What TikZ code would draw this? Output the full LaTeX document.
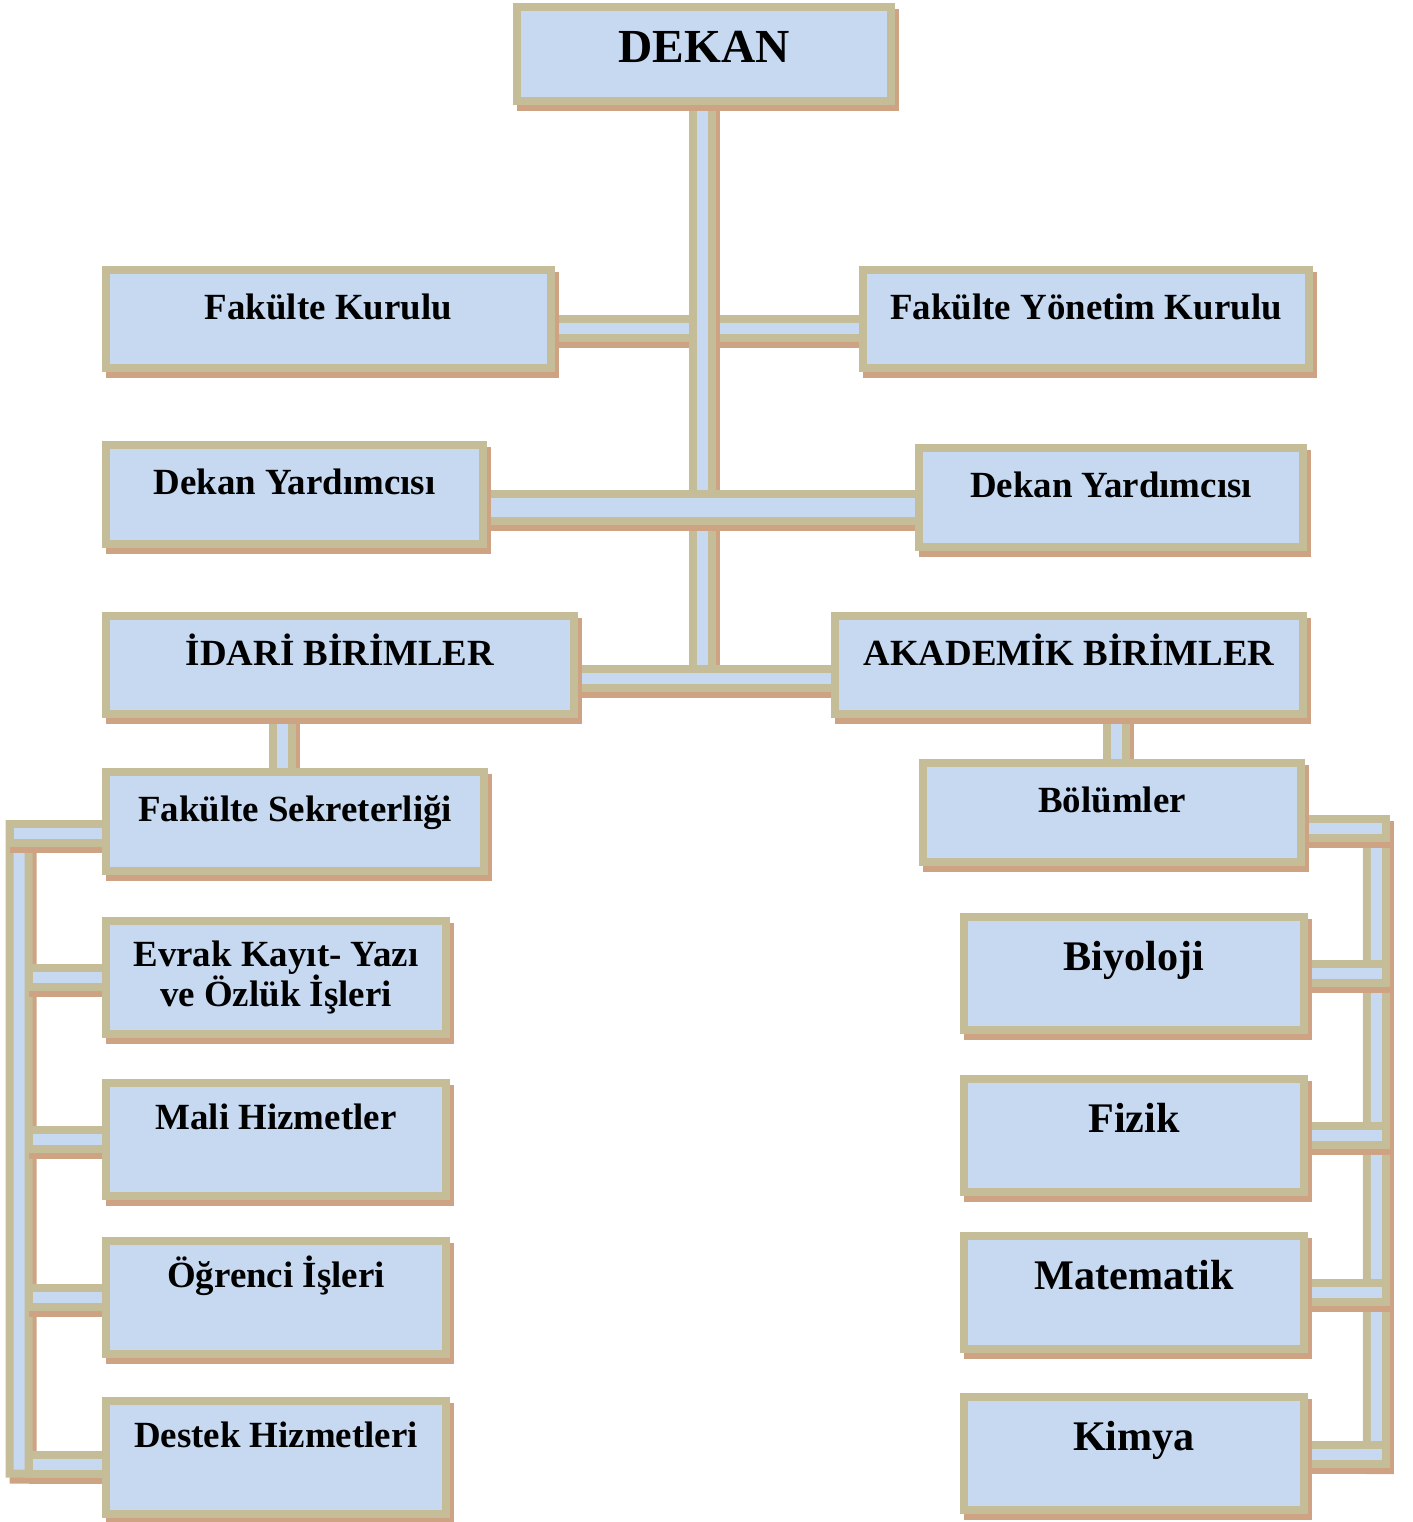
\documentclass[tikz,border=0pt]{standalone}
\usepackage{fontspec}
\setmainfont{Liberation Serif}
\usepackage{xcolor}
\usetikzlibrary{calc,backgrounds}

\definecolor{boxblue}{RGB}{198,217,241}
\definecolor{boxtan}{RGB}{196,189,151}
\definecolor{shadowbrown}{RGB}{205,163,132}

\begin{document}
\begin{tikzpicture}[x=0.02cm, y=-0.02cm,
  unit/.style={rectangle, draw=boxtan, fill=boxblue, line width=0.16cm, inner sep=0pt,
    font=\fontsize{21}{23}\selectfont\bfseries,
    preaction={draw=shadowbrown, fill=shadowbrown, transform canvas={shift={(0.08cm,-0.12cm)}}}},
  level/.style={unit, text height=10pt, text depth=10pt},
  head/.style={unit, font=\fontsize{27}{30}\selectfont\bfseries, text height=18pt, text depth=8pt},
  office/.style={unit, minimum width=6.8cm, minimum height=2.26cm, text height=10pt, text depth=21pt},
  dept/.style={unit, font=\fontsize{24}{27}\selectfont\bfseries, minimum width=6.8cm, minimum height=2.26cm,
    text height=10pt, text depth=14pt},
  pipe/.style={draw=boxtan, double=boxblue, line width=0.16cm, double distance=0.22cm, line cap=rect,
    preaction={draw=shadowbrown, line width=0.54cm, line cap=rect, transform canvas={shift={(0.08cm,-0.12cm)}}}},
  widepipe/.style={draw=boxtan, double=boxblue, line width=0.16cm, double distance=0.38cm, line cap=rect,
    preaction={draw=shadowbrown, line width=0.7cm, line cap=rect, transform canvas={shift={(0.08cm,-0.12cm)}}}}]
\useasboundingbox (0,0) rectangle (1413,1522);

\node[head, minimum width=7.48cm, minimum height=1.88cm] (dekan) at (704,54) {DEKAN};
\node[level, minimum width=8.9cm, minimum height=1.96cm] (fk) at (328.5,319) {Fakülte Kurulu};
\node[level, minimum width=8.92cm, minimum height=1.96cm] (fyk) at (1086,319) {Fakülte Yönetim Kurulu};
\node[level, minimum width=7.54cm, minimum height=1.98cm] (dyl) at (294.5,494.5) {Dekan Yardımcısı};
\node[level, minimum width=7.68cm, minimum height=1.98cm] (dyr) at (1111,497.5) {Dekan Yardımcısı};
\node[level, minimum width=9.36cm, minimum height=1.96cm] (idari) at (340,665) {İDARİ BİRİMLER};
\node[level, minimum width=9.36cm, minimum height=1.96cm] (akademik) at (1069,665) {AKADEMİK BİRİMLER};
\node[level, minimum width=7.56cm, minimum height=1.98cm] (sekreterlik) at (295,821.5) {Fakülte Sekreterliği};
\node[level, minimum width=7.56cm, minimum height=1.98cm] (bolumler) at (1112,812.5) {Bölümler};

\node[unit, align=center, minimum width=6.8cm, minimum height=2.26cm] (evrak) at (276,977.5) {Evrak Kayıt- Yazı\\ve Özlük İşleri};
\node[office] (mali) at (276,1139.5) {Mali Hizmetler};
\node[office] (ogrenci) at (276,1297.5) {Öğrenci İşleri};
\node[office] (destek) at (276,1457.5) {Destek Hizmetleri};

\node[dept] (biyoloji) at (1134,973.5) {Biyoloji};
\node[dept] (fizik) at (1134,1135.5) {Fizik};
\node[dept] (matematik) at (1134,1292.5) {Matematik};
\node[dept] (kimya) at (1134,1453.5) {Kimya};

\begin{pgfonlayer}{background}
\coordinate (fk-bar) at ($(fk.east)+(0,9)$);
\draw[pipe] (fk-bar) -- (fk-bar -| fyk.west);
\coordinate (trunk) at ($(dekan.south)+(-2,0)$);
\coordinate (unit-bar) at ($(idari.east)+(0,13)$);
\draw[pipe] (trunk) -- (trunk |- unit-bar);
\coordinate (dy-bar) at ($(dyl.east)+(0,12.5)$);
\draw[widepipe] (dy-bar) -- (dy-bar -| dyr.west);
\draw[pipe] (unit-bar) -- (unit-bar -| akademik.west);

\coordinate (adm-drop) at ($(sekreterlik.north west)+(180,0)$);
\draw[pipe] (adm-drop |- idari.south) -- (adm-drop);
\coordinate (acad-drop) at ($(bolumler.north west)+(197.5,0)$);
\draw[pipe] (acad-drop |- akademik.south) -- (acad-drop);

\coordinate (lspine-top) at ($(sekreterlik.west)+(-83,12)$);
\coordinate (lspine-bot) at ($(destek.west)+(-83,6.5)$);
\coordinate (lspine-in) at ($(lspine-top)+(19.5,0)$);
\draw[pipe] (lspine-top) -- (lspine-bot);
\draw[pipe] (sekreterlik.west |- lspine-top) -- (lspine-top);
\foreach \n in {evrak,mali,ogrenci}
  \draw[pipe] (\n.west) -- (\n.west -| lspine-in);
\draw[pipe] (destek.west |- lspine-bot) -- (lspine-in |- lspine-bot);

\coordinate (rspine-top) at ($(bolumler.east)+(71.5,16)$);
\coordinate (rspine-bot) at ($(kimya.east)+(68.5,1)$);
\draw[pipe] (rspine-top) -- (rspine-bot);
\draw[pipe] (bolumler.east |- rspine-top) -- (rspine-top);
\foreach \n in {biyoloji,fizik,matematik}
  \draw[pipe] (\n.east) -- (\n.east -| rspine-top);
\draw[pipe] (kimya.east |- rspine-bot) -- (rspine-bot);
\end{pgfonlayer}
\end{tikzpicture}
\end{document}
